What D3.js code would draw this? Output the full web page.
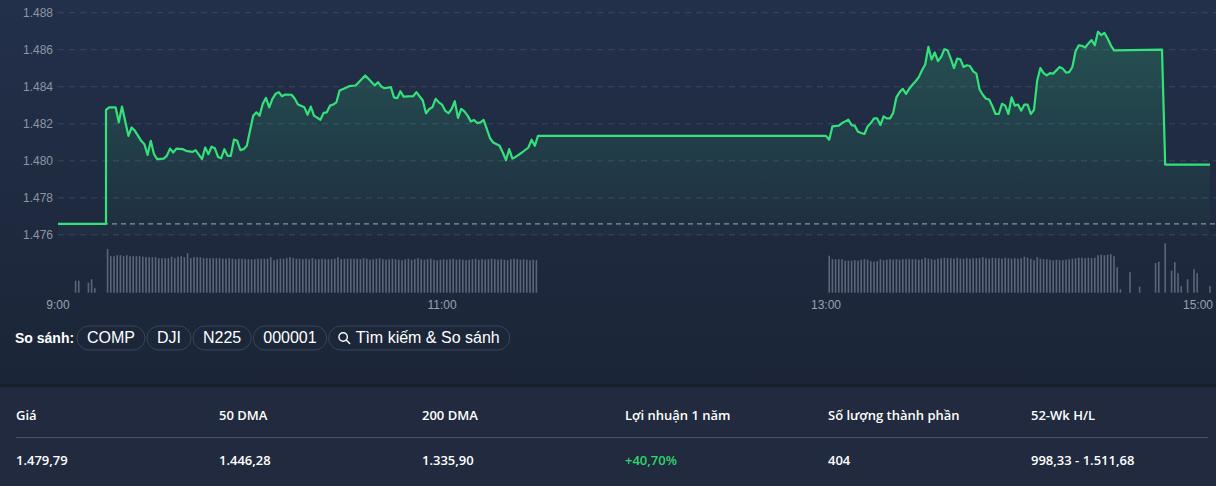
<!DOCTYPE html>
<html>
<head>
<meta charset="utf-8">
<title>VN-Index intraday</title>
<script src="https://cdn.jsdelivr.net/npm/d3@7"></script>
<style>
body { margin: 0; background: #1c2639; overflow: hidden; }
svg { display: block; }
</style>
</head>
<body>
<script>
// reference (previous close), lunch, ATC and close levels
var refPrice = 1476.6;
var lunchPrice = 1481.35;
var atcPrice = 1486.01;
var closePrice = 1479.79;

var yTicks = [1476, 1478, 1480, 1482, 1484, 1486, 1488];
var xTicks = ["9:00", "11:00", "13:00", "15:00"];

var morningTimes = ["9:15","9:16","9:18","9:19","9:20","9:22","9:23","9:24","9:26","9:27","9:28","9:29","9:30","9:31","9:33","9:34","9:35","9:36","9:37","9:39","9:40","9:42","9:43","9:45","9:46","9:47","9:48","9:49","9:50","9:51","9:52","9:53","9:54","9:55","9:56","9:57","9:58","9:59",
 "10:01","10:02","10:03","10:04","10:05","10:06","10:07","10:08","10:09","10:10","10:11","10:13","10:14","10:15","10:17","10:18","10:19","10:20","10:22","10:23","10:24","10:25","10:26","10:27","10:28","10:30","10:31","10:33","10:34","10:36","10:37","10:39","10:40","10:41","10:42","10:44","10:45","10:46","10:47","10:48","10:51","10:52","10:54","10:55","10:56","10:57","10:58","10:59",
 "11:00","11:01","11:02","11:03","11:04","11:05","11:06","11:07","11:08","11:09","11:10","11:11","11:12","11:13","11:14","11:15","11:16","11:18","11:19","11:20","11:21","11:22","11:23","11:25","11:27","11:28","11:29","11:30"];
var morningPrices = [1482.75,1482.89,1482.89,1482.08,1482.93,1481.35,1481.80,1481.63,1481.08,1480.90,1480.32,1481.08,1480.36,1480.09,1480.12,1480.27,1480.66,1480.45,1480.66,1480.63,1480.54,1480.48,1480.58,1480.09,1480.72,1480.36,1480.76,1480.68,1480.21,1480.14,1480.63,1480.27,1480.27,1481.15,1481.08,1480.58,1480.63,1480.81,
 1482.44,1482.62,1482.44,1483.08,1483.40,1482.89,1483.35,1483.62,1483.71,1483.49,1483.58,1483.57,1483.35,1483.04,1482.89,1482.49,1482.93,1482.44,1482.22,1482.59,1482.62,1482.98,1483.04,1483.16,1483.80,1483.95,1484.03,1484.07,1484.25,1484.61,1484.43,1484.07,1484.25,1484.02,1483.92,1483.98,1483.43,1483.38,1483.76,1483.47,1483.49,1483.71,1483.26,1482.57,1482.80,1482.89,1483.35,1483.16,
 1483.04,1482.71,1482.57,1482.80,1483.22,1482.32,1482.80,1482.67,1482.44,1482.13,1482.21,1482.04,1482.08,1482.21,1481.72,1481.23,1480.99,1480.81,1480.45,1480.03,1480.63,1480.12,1480.21,1480.45,1480.72,1481.14,1480.81,1481.35];

var afternoonTimes = ["13:01","13:02","13:04","13:05","13:06","13:07","13:08","13:09","13:10","13:11","13:12","13:13","13:14","13:15","13:16","13:17","13:18","13:19","13:20","13:21","13:22","13:23","13:24","13:25","13:26","13:27","13:28","13:29","13:30","13:31","13:32","13:33","13:34","13:35","13:36","13:37","13:38","13:39","13:40","13:41","13:42","13:43","13:44","13:45","13:46","13:47","13:48","13:49","13:50","13:51","13:52","13:53","13:54","13:55","13:56","13:57","13:58","13:59",
 "14:00","14:01","14:02","14:03","14:04","14:05","14:06","14:07","14:08","14:09","14:10","14:11","14:13","14:14","14:15","14:16","14:17","14:18","14:19","14:20","14:21","14:22","14:23","14:24","14:25","14:26","14:27","14:28","14:29","14:30"];
var afternoonPrices = [1481.14,1481.86,1481.90,1482.04,1482.13,1482.22,1481.93,1481.90,1481.57,1481.50,1481.45,1481.86,1482.04,1482.29,1482.29,1481.93,1482.40,1482.29,1482.29,1482.59,1483.43,1483.71,1483.89,1483.62,1483.89,1484.11,1484.30,1484.52,1484.89,1485.20,1486.15,1485.47,1485.85,1485.38,1485.61,1486.03,1485.97,1485.52,1485.01,1485.52,1485.48,1485.07,1485.16,1485.12,1484.83,1484.71,1483.85,1483.57,1483.35,1483.31,1482.95,1482.53,1482.53,1483.08,1482.98,1482.53,1483.43,1482.98,
 1483.04,1482.71,1483.04,1483.04,1482.53,1482.75,1484.34,1485.01,1484.74,1484.61,1484.74,1484.71,1485.07,1484.98,1484.76,1484.79,1485.07,1485.93,1486.24,1486.21,1486.12,1486.34,1486.52,1486.24,1486.97,1486.79,1486.91,1486.61,1486.24,1485.97];

// volume per minute (relative units)
var atoVolTimes = ["9:05:30","9:06:30","9:09:30","9:10:30","9:11:30"];
var atoVols = [2.4,2.4,2.0,2.7,0.9];
var morningVolStart = "9:15:30";
var morningVols = [8.7,
 7.3,7.3,7.5,7.5,7.3,7.5,7.3,7.3,7.3,7.3, 7.2,7.1,7.1,7.1,7.1,6.9,6.9,6.9,6.9,7.2,
 6.9,7.2,7.3,7.1,7.9,6.9,7.1,7.1,7.1,6.9, 6.9,6.9,6.9,6.9,6.9,6.8,6.8,6.9,6.8,6.7,
 6.8,6.8,6.7,6.7,6.7,6.7,6.8,6.8,6.8,6.8, 7.1,6.5,6.7,6.8,6.8,6.9,7.1,6.9,6.8,6.8,
 6.7,6.8,6.7,6.9,6.7,6.7,6.8,6.7,6.7,6.7, 6.8,7.1,6.7,6.8,6.8,6.8,6.8,
 6.8,6.7,6.9,6.8,6.6,6.7,6.8,6.9,6.7,6.6, 6.7,6.8,6.7,6.6,6.5,6.7,6.8,6.6,6.7,6.9,
 6.7,6.6,6.7,6.8,6.6,6.5,6.6,6.7,6.6,6.7, 6.8,6.6,6.7,6.6,6.5,6.6,6.7,6.8,6.6,6.7,
 6.6,6.7,6.8,6.7,6.6,6.7,6.6,6.5,6.7,6.8, 6.7,6.6,6.7,6.6,6.5,6.6,6.5];
var afternoonVolStart = "13:01";
var afternoonVols = [7.4,6.7,6.7,6.7,6.7,6.4,6.4,6.4,6.5,6.4,
 6.6,6.7,6.6,6.3,6.2,6.3,6.7,6.5,6.6,6.7,
 6.6,6.7,6.6,6.7,6.7,6.7,6.7,6.7,6.6,6.7,
 7.0,6.8,6.7,6.6,6.8,6.9,7.0,6.9,6.9,6.8,
 7.0,6.8,6.8,6.9,6.8,6.9,6.9,6.9,7.1,6.9,
 6.8,7.0,6.9,6.9,6.8,7.0,6.9,6.8,6.9,6.8,
 6.9,7.2,7.0,6.8,6.5,7.1,6.8,6.7,6.7,6.6,
 6.5,6.6,6.5,6.5,6.6,6.7,6.8,6.9,7.0,7.0,
 6.9,7.0,6.9,7.0,7.5,7.6,7.5,7.6,7.7,7.3,
 5.1,0.7];
var atcVolTimes = ["14:35","14:38","14:43","14:44","14:46","14:48","14:49","14:50","14:51","14:53","14:55","14:56","15:00"];
var atcVols = [4.1,1.2,5.9,6.2,9.9,4.4,6.1,3.9,1.3,2.7,4.7,3.9,1.3];

var compareCodes = ["COMP", "DJI", "N225", "000001"];
var searchLabel = "Tìm kiếm & So sánh";

var statLabels = ["Giá", "50 DMA", "200 DMA", "Lợi nhuận 1 năm", "Số lượng thành phần", "52-Wk H/L"];
var statValues = ["1.479,79", "1.446,28", "1.335,90", "+40,70%", "404", "998,33 - 1.511,68"];

var width = 1216, height = 486;

function t(s) {
  var p = s.split(":");
  return new Date(2024, 0, 2, +p[0], +p[1], +(p[2] || 0));
}
function addMin(s, n) { return new Date(t(s).getTime() + n * 60000); }

var vn = d3.formatLocale({ decimal: ",", thousands: ".", grouping: [3], currency: ["", ""] });
var fmtTick = vn.format(",.0f");

var x = d3.scaleTime().domain([t("9:00"), t("15:00")]).range([58, 1210]);
var y = d3.scaleLinear().domain([1476, 1488]).range([234.9, 12.7]);
var yv = d3.scaleLinear().domain([0, 10]).range([292.7, 242.7]);

var svg = d3.select("body").append("svg")
  .attr("width", width).attr("height", height)
  .style("font-family", "'Liberation Sans', Arial, sans-serif");

var defs = svg.append("defs");
var bg = defs.append("linearGradient").attr("id", "bg")
  .attr("x1", 0).attr("y1", 0).attr("x2", 0).attr("y2", 1);
bg.append("stop").attr("offset", "0%").attr("stop-color", "#23304a");
bg.append("stop").attr("offset", "100%").attr("stop-color", "#1b2537");
var ag = defs.append("linearGradient").attr("id", "areaFill")
  .attr("gradientUnits", "userSpaceOnUse")
  .attr("x1", 0).attr("y1", 25).attr("x2", 0).attr("y2", y(1476));
ag.append("stop").attr("offset", "0%").attr("stop-color", "#31e07a").attr("stop-opacity", 0.2);
ag.append("stop").attr("offset", "100%").attr("stop-color", "#31e07a").attr("stop-opacity", 0.02);

svg.append("rect").attr("width", width).attr("height", 386).attr("fill", "url(#bg)");

// grid
svg.append("g").selectAll("line").data(yTicks).enter().append("line")
  .attr("x1", 58).attr("x2", width)
  .attr("y1", function(d) { return y(d); }).attr("y2", function(d) { return y(d); })
  .attr("stroke", "#3a4660").attr("stroke-width", 1).attr("stroke-dasharray", "6,5");

svg.append("g").selectAll("text").data(yTicks).enter().append("text")
  .attr("x", 53).attr("y", function(d) { return y(d); })
  .attr("dy", "0.35em").attr("text-anchor", "end")
  .attr("fill", "#8d95a4").attr("font-size", 12)
  .text(function(d) { return fmtTick(d); });

// build price line
var points = [[t("9:00"), refPrice], [t("9:15"), refPrice]];
morningTimes.forEach(function(s, i) { points.push([t(s), morningPrices[i]]); });
points.push([t("13:00"), lunchPrice]);
afternoonTimes.forEach(function(s, i) { points.push([t(s), afternoonPrices[i]]); });
points.push([t("14:45"), atcPrice], [t("14:46"), closePrice], [t("15:00"), closePrice]);

var area = d3.area()
  .x(function(d) { return x(d[0]); })
  .y0(y(1476))
  .y1(function(d) { return y(d[1]); });
var line = d3.line()
  .x(function(d) { return x(d[0]); })
  .y(function(d) { return y(d[1]); });

svg.append("path").datum(points).attr("d", area).attr("fill", "url(#areaFill)");

// reference line
svg.append("line")
  .attr("x1", 58).attr("x2", width)
  .attr("y1", y(refPrice)).attr("y2", y(refPrice))
  .attr("stroke", "#8a92a1").attr("stroke-width", 1.2).attr("stroke-dasharray", "5,4");

svg.append("path").datum(points).attr("d", line)
  .attr("fill", "none").attr("stroke", "#33e27a")
  .attr("stroke-width", 2.2).attr("stroke-linejoin", "round");

// volume bars
var vols = [];
atoVolTimes.forEach(function(s, i) { vols.push([t(s), atoVols[i]]); });
morningVols.forEach(function(v, i) { vols.push([addMin(morningVolStart, i), v]); });
afternoonVols.forEach(function(v, i) { vols.push([addMin(afternoonVolStart, i), v]); });
atcVolTimes.forEach(function(s, i) { vols.push([t(s), atcVols[i]]); });

svg.append("g").selectAll("rect").data(vols).enter().append("rect")
  .attr("x", function(d) { return x(d[0]) - 0.8; })
  .attr("width", 1.6)
  .attr("y", function(d) { return yv(d[1]); })
  .attr("height", function(d) { return yv(0) - yv(d[1]); })
  .attr("fill", "#5b657a");

// x labels
svg.append("g").selectAll("text").data(xTicks).enter().append("text")
  .attr("x", function(d, i) { return i === xTicks.length - 1 ? x(t(d)) + 3 : x(t(d)); })
  .attr("y", 309)
  .attr("text-anchor", function(d, i) { return i === xTicks.length - 1 ? "end" : "middle"; })
  .attr("fill", "#9aa1ae").attr("font-size", 12)
  .text(function(d) { return d; });

// compare row
svg.append("text").attr("x", 15).attr("y", 343)
  .attr("fill", "#ffffff").attr("font-size", 14).attr("font-weight", "bold")
  .text("So sánh:");

var px = 77;
var pills = svg.append("g");
compareCodes.concat([searchLabel]).forEach(function(c, i) {
  var g = pills.append("g");
  var isSearch = i === compareCodes.length;
  var tx = g.append("text").attr("y", 343).attr("fill", "#ffffff").attr("font-size", 16).text(c);
  var tw = tx.node().getComputedTextLength();
  var w = tw + 20 + (isSearch ? 17 : 0);
  tx.attr("x", px + 10 + (isSearch ? 17 : 0));
  g.insert("rect", "text").attr("x", px).attr("y", 326).attr("width", w).attr("height", 24)
    .attr("rx", 12).attr("fill", "none").attr("stroke", "#3a4459").attr("stroke-width", 1);
  if (isSearch) {
    g.append("circle").attr("cx", px + 14.5).attr("cy", 337).attr("r", 4.2)
      .attr("fill", "none").attr("stroke", "#ffffff").attr("stroke-width", 1.4);
    g.append("line").attr("x1", px + 17.5).attr("y1", 340).attr("x2", px + 21).attr("y2", 343.5)
      .attr("stroke", "#ffffff").attr("stroke-width", 1.5).attr("stroke-linecap", "round");
  }
  px += w + 2;
});

// stats panel
svg.append("rect").attr("x", 0).attr("y", 384).attr("width", width).attr("height", 3).attr("fill", "#161e2c");
svg.append("rect").attr("x", 0).attr("y", 387).attr("width", width).attr("height", height - 387).attr("fill", "#212a3e");

var col = d3.scaleLinear().domain([0, statLabels.length]).range([16, 16 + 203 * statLabels.length]);
var stats = svg.append("g").style("font-family", "'Open Sans', 'Liberation Sans', sans-serif");
stats.selectAll("text.lbl").data(statLabels).enter().append("text")
  .attr("class", "lbl").attr("x", function(d, i) { return col(i); }).attr("y", 420)
  .attr("fill", "#ffffff").attr("font-size", 13).attr("font-weight", 600)
  .text(function(d) { return d; });
svg.append("line").attr("x1", 16).attr("x2", 1208).attr("y1", 437.5).attr("y2", 437.5)
  .attr("stroke", "#4b5468").attr("stroke-width", 1);
stats.selectAll("text.val").data(statValues).enter().append("text")
  .attr("class", "val").attr("x", function(d, i) { return col(i); }).attr("y", 465)
  .attr("fill", function(d) { return d.charAt(0) === "+" ? "#2fd66e" : "#ffffff"; })
  .attr("font-size", 13).attr("font-weight", 600)
  .text(function(d) { return d; });
</script>
</body>
</html>
